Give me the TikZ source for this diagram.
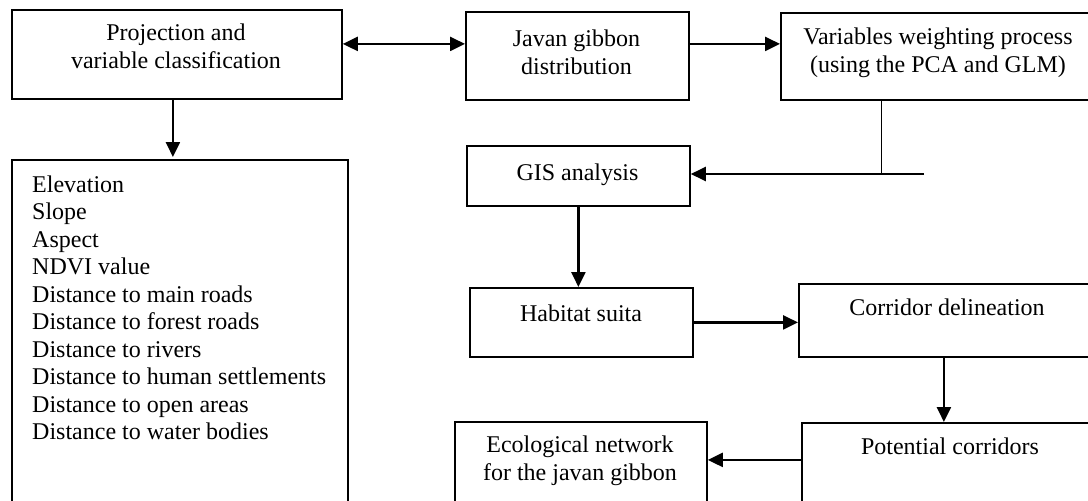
\documentclass[tikz,border=0pt]{standalone}
\usepackage{fontspec}
\setmainfont{Liberation Serif}
\usetikzlibrary{arrows.meta}
\begin{document}
\begin{tikzpicture}[x=1pt,y=-1pt,
  box/.style={draw, line width=1.8pt, inner sep=0pt, anchor=north west},
  lbl/.style={font=\fontsize{24}{27.5}\selectfont, inner sep=0pt, align=center, anchor=base},
  arr/.style={line width=2.4pt, -{Triangle[length=15pt,width=14pt]}},
  darr/.style={line width=2.4pt, {Triangle[length=15pt,width=14pt]}-{Triangle[length=15pt,width=14pt]}},
  thinline/.style={line width=1pt}]
\useasboundingbox (0,0) rectangle (1088,501);
\clip (0,0) rectangle (1088,501);
% boxes
\node[box, minimum width=330pt, minimum height=89pt] (proj) at (11,9) {};
\node[box, minimum width=336pt, minimum height=400pt] (list) at (11,159) {};
\node[box, minimum width=223pt, minimum height=88pt] (javan) at (465,11) {};
\node[box, minimum width=316pt, minimum height=87pt] (vars) at (780,12) {};
\node[box, minimum width=223pt, minimum height=60pt] (gis) at (466,145) {};
\node[box, minimum width=223pt, minimum height=69pt] (hab) at (469,287) {};
\node[box, minimum width=298pt, minimum height=73pt] (cor) at (798,283) {};
\node[box, minimum width=298pt, minimum height=100pt] (pot) at (801,422) {};
\node[box, minimum width=252pt, minimum height=100pt] (eco) at (454,421) {};
% texts (multi-line nodes: base = last line's baseline)
\node[lbl] (projT) at (176,68) {Projection and\\variable classification};
\node[lbl] (javT) at (576.5,74) {Javan gibbon\\distribution};
\node[lbl] (varT) at (938,72) {Variables weighting process\\(using the PCA and GLM)};
\node[lbl] (gisT) at (577.5,180) {GIS analysis};
\node[lbl] (habT) at (581,321) {Habitat suita};
\node[lbl] (corT) at (947,315) {Corridor delineation};
\node[lbl] (potT) at (950,454) {Potential corridors};
\node[lbl] (ecoT) at (580,480) {Ecological network\\for the javan gibbon};
\node[lbl, align=left, anchor=base west] (listT) at (32,439.5) {Elevation\\Slope\\Aspect\\NDVI value\\Distance to main roads\\Distance to forest roads\\Distance to rivers\\Distance to human settlements\\Distance to open areas\\Distance to water bodies};
% connectors
\draw[darr] ([yshift=10.5pt]proj.east) -- ([yshift=10.5pt]proj.east -| javan.west);
\draw[arr] ([yshift=12pt]javan.east) -- ([yshift=12pt]javan.east -| vars.west);
\draw[arr, shorten >=2pt] ([xshift=-4pt]proj.south) -- ([xshift=-4pt]proj.south |- list.north);
\coordinate (j) at (924,174);
\draw[thinline] ([xshift=-57pt]vars.south) -- ([xshift=-57pt]vars.south |- j);
\draw[arr] (j) -- (j -| gis.east);
\draw[arr] (gis.south) -- (gis.south |- hab.north);
\draw[arr] (hab.east) -- (hab.east -| cor.west);
\draw[arr] ([xshift=-4pt]cor.south) -- ([xshift=-4pt]cor.south |- pot.north);
\draw[arr] ([yshift=13pt]pot.west) -- ([yshift=13pt]pot.west -| eco.east);
\end{tikzpicture}
\end{document}
